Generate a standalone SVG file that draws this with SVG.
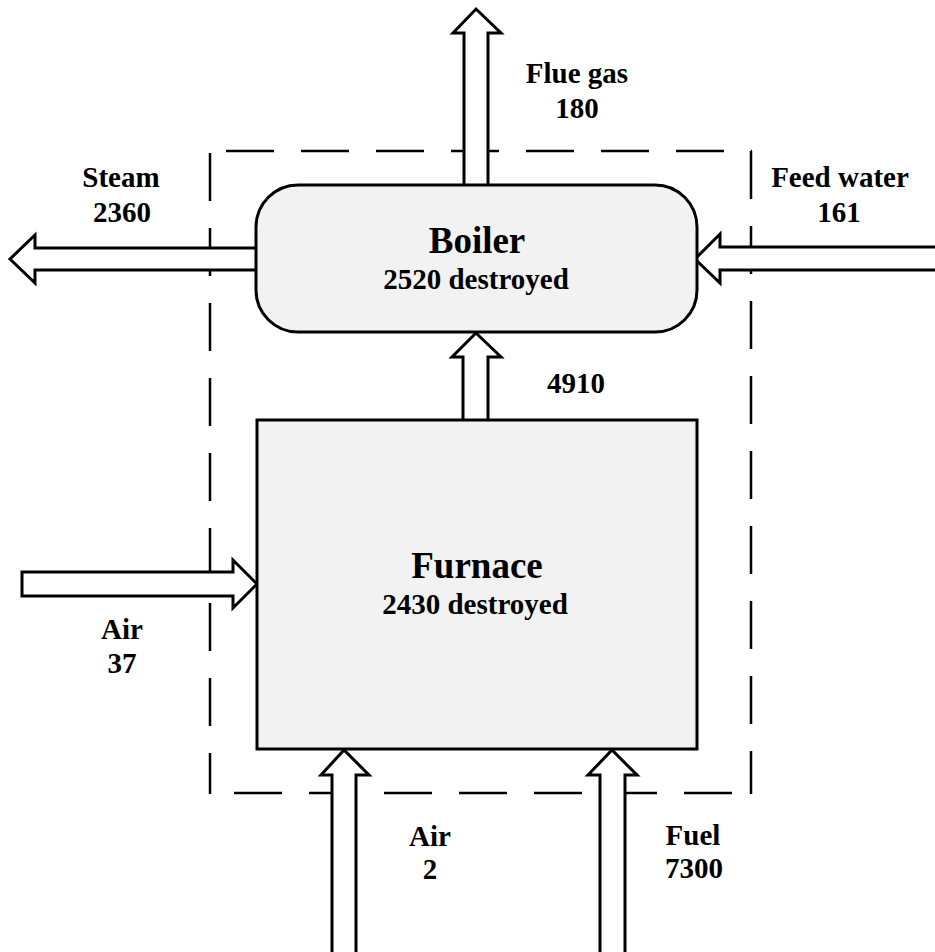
<svg xmlns="http://www.w3.org/2000/svg" width="935" height="952" viewBox="0 0 935 952">
<style>
.box{fill:#f2f2f2;stroke:#000;stroke-width:3}
.arr{fill:#fff;stroke:#000;stroke-width:3;stroke-linejoin:miter}
.dash{fill:none;stroke:#000;stroke-width:2.5;stroke-dasharray:48 27}
text{font-family:"Liberation Serif","Times New Roman",serif;font-weight:bold;fill:#000;text-anchor:middle}
.lbl{font-size:29px}
.ttl{font-size:37px}
</style>
<rect width="935" height="952" fill="#fff"/>
<g id="boundary">
<line class="dash" x1="226" y1="151" x2="752" y2="151"/>
<line class="dash" x1="751" y1="151" x2="751" y2="794"/>
<line class="dash" x1="210" y1="793" x2="752" y2="793" stroke-dashoffset="-24"/>
<line class="dash" x1="210" y1="153" x2="210" y2="794"/>
</g>
<g id="connectors">
<path class="arr" d="M464,185 V33 H453 L476,9 L501,33 H488 V185"/>
<path class="arr" d="M256,248 H35 V235 L10,259 L35,283 V270 H256"/>
<path class="arr" d="M940,247 H720 V234 L695,259 L720,283 V270 H940"/>
<path class="arr" d="M22,572 H233 V560 L257,584 L233,608 V596 H22 Z"/>
<path class="arr" d="M463,420 V357 H452 L476,333 L501,357 H488 V420"/>
<path class="arr" d="M332,960 V775 H321 L344,750 L369,775 H356 V960"/>
<path class="arr" d="M600,960 V775 H588 L612,750 L637,775 H625 V960"/>
</g>
<g id="boiler">
<rect class="box" x="256" y="185" width="441" height="147" rx="42" ry="42"/>
<text class="ttl" x="477" y="253">Boiler</text>
<text class="lbl" x="476" y="289">2520 destroyed</text>
</g>
<g id="furnace">
<rect class="box" x="257" y="420" width="440" height="329"/>
<text class="ttl" x="477" y="578">Furnace</text>
<text class="lbl" x="475" y="614">2430 destroyed</text>
</g>
<g id="labels">
<text class="lbl" x="577" y="83">Flue gas</text>
<text class="lbl" x="577" y="118">180</text>
<text class="lbl" x="121" y="187">Steam</text>
<text class="lbl" x="122" y="222">2360</text>
<text class="lbl" x="840" y="187">Feed water</text>
<text class="lbl" x="839" y="222">161</text>
<text class="lbl" x="576" y="393">4910</text>
<text class="lbl" x="122" y="639">Air</text>
<text class="lbl" x="122" y="673">37</text>
<text class="lbl" x="430" y="846">Air</text>
<text class="lbl" x="430" y="879">2</text>
<text class="lbl" x="693" y="845">Fuel</text>
<text class="lbl" x="694" y="878">7300</text>
</g>
</svg>
